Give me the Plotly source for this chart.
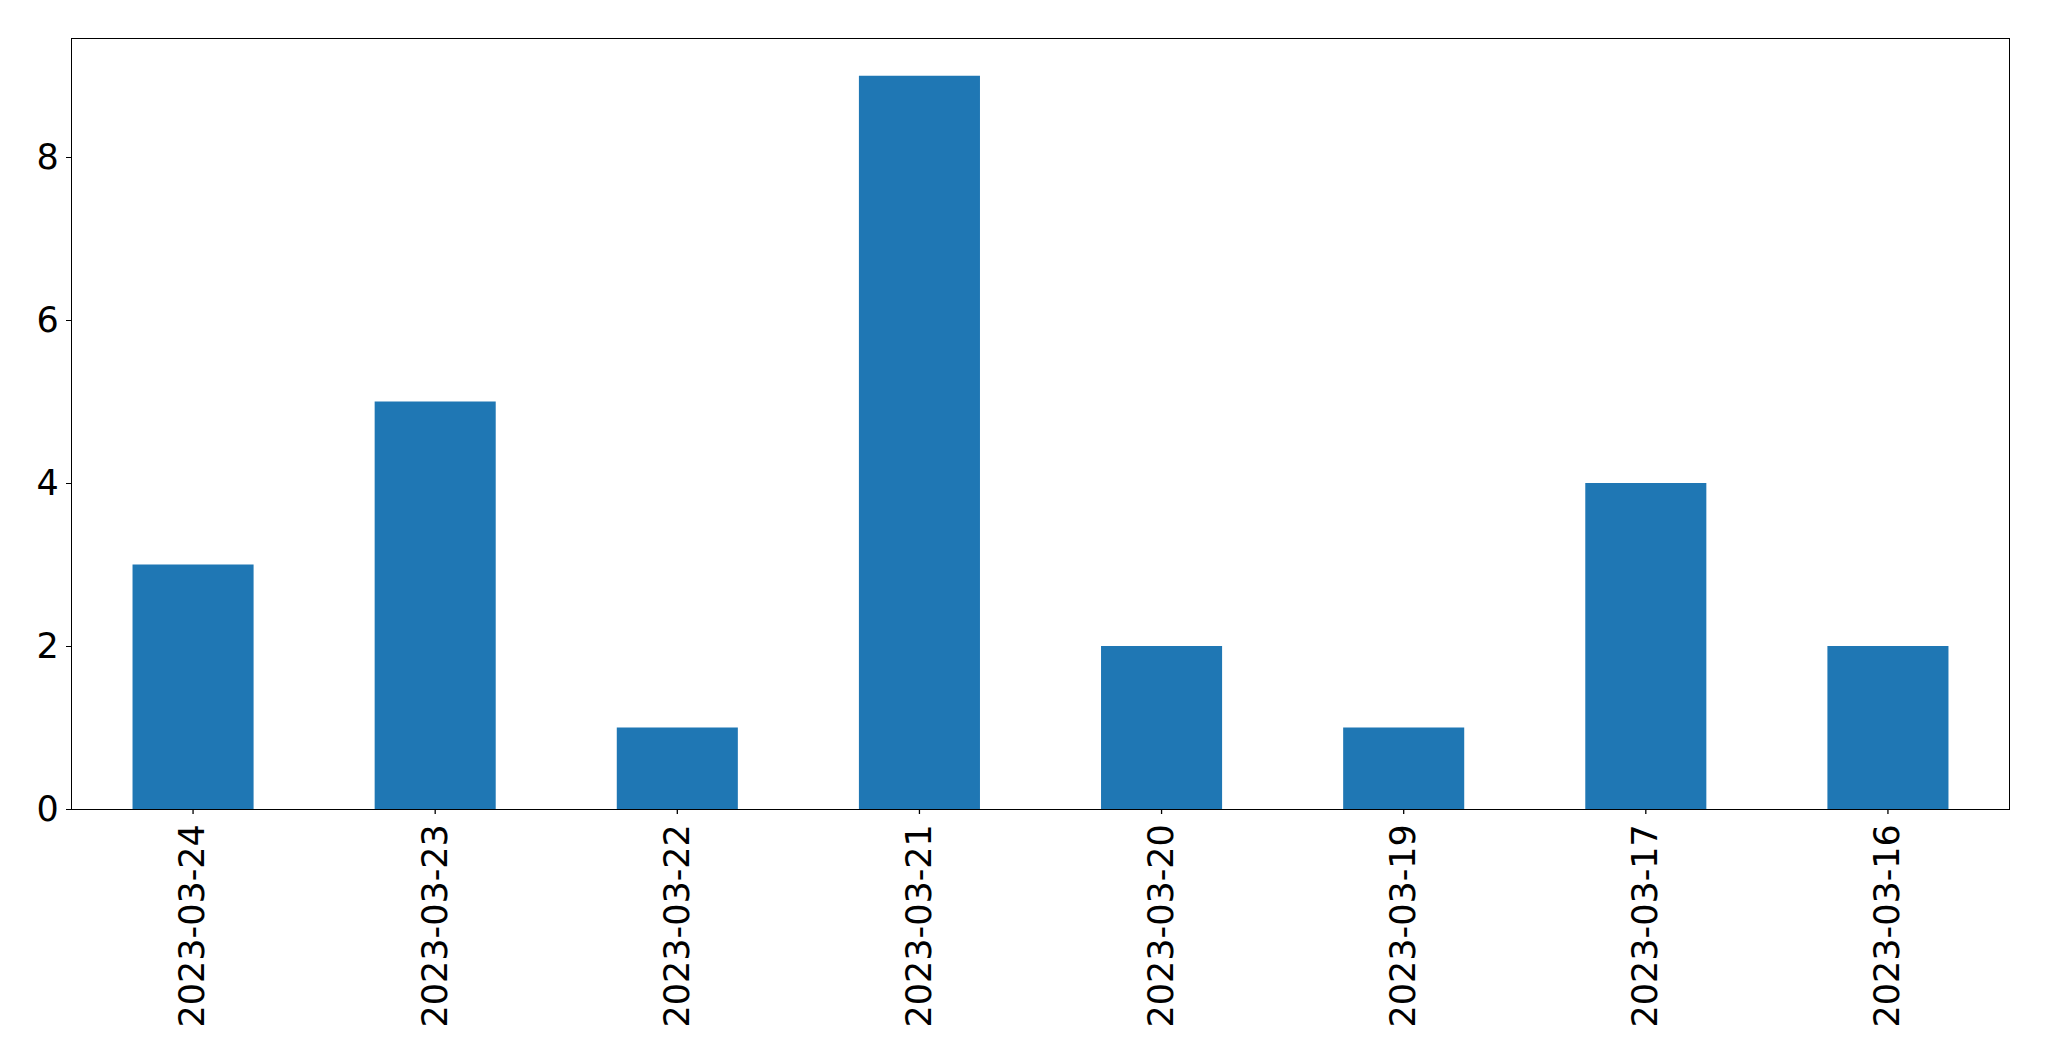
import plotly.graph_objects as go

categories = ["2023-03-24", "2023-03-23", "2023-03-22", "2023-03-21",
              "2023-03-20", "2023-03-19", "2023-03-17", "2023-03-16"]
values = [3, 5, 1, 9, 2, 1, 4, 2]
y_ticks = [0, 2, 4, 6, 8]

fig = go.Figure(go.Bar(
    x=categories, y=values, width=0.5,
    marker=dict(color="#1f77b4", line=dict(width=0)),
))

axis_common = dict(
    showline=True, linecolor="black", linewidth=1.3, mirror=True,
    tickwidth=1.3, tickcolor="black",
    showgrid=False, zeroline=False,
    tickfont=dict(family="DejaVu Sans", size=35, color="black"),
)

# x tick marks drawn as short pixel-sized lines below the axis (labels sit closer, as in the reference)
for c in categories:
    fig.add_shape(type="line", xref="x", yref="paper", ysizemode="pixel", yanchor=0,
                  x0=c, x1=c, y0=0, y1=-5, line=dict(color="black", width=1.3))

fig.update_layout(
    width=2049, height=1061,
    margin=dict(l=72, r=40, t=39, b=252),
    paper_bgcolor="white", plot_bgcolor="white",
    showlegend=False,
    xaxis=dict(type="category", range=[-0.5, 7.5], tickangle=-90, ticks="", **axis_common),
    yaxis=dict(range=[0, 9.45], tickvals=y_ticks, ticks="outside", ticklen=5, **axis_common),
)

fig.write_html(
    "out.html",
    config={"displayModeBar": False},
    post_script="document.body.style.margin='0';document.body.style.overflow='hidden';",
)
